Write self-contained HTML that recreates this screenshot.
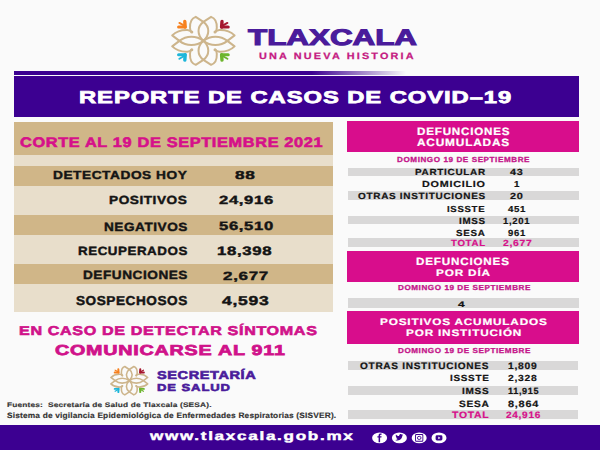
<!DOCTYPE html>
<html><head><meta charset="utf-8">
<style>
html,body{margin:0;padding:0;}
body{width:600px;height:450px;position:relative;overflow:hidden;background:#fafafa;font-family:"Liberation Sans",sans-serif;}
.b{position:absolute;}
.t{position:absolute;white-space:nowrap;font-weight:bold;transform-origin:0 0;text-rendering:geometricPrecision;}
</style></head><body>

<!-- thin bar -->
<div class="b" style="left:13.5px;top:71px;width:392px;height:3.7px;background:linear-gradient(90deg,#3c0091 0%,#3c0091 76%,rgba(60,0,145,0) 100%)"></div>
<div class="b" style="left:13.5px;top:76px;width:565.2px;height:40.7px;background:#3c0091"></div>
<!-- left table -->
<div class="b" style="left:13.5px;top:122px;width:319px;height:33px;background:#d0b688"></div>
<div class="b" style="left:13.5px;top:155px;width:319px;height:157px;background:#e8decb"></div>
<div class="b" style="left:13.5px;top:165.6px;width:319px;height:20.4px;background:#d0b688"></div>
<div class="b" style="left:13.5px;top:215px;width:319px;height:20px;background:#d0b688"></div>
<div class="b" style="left:13.5px;top:264px;width:319px;height:20px;background:#d0b688"></div>
<!-- right column -->
<div class="b" style="left:347.4px;top:120.7px;width:231.2px;height:31px;background:#d80d8c"></div>
<div class="b" style="left:348px;top:167.5px;width:230.5px;height:8.7px;background:#d9d8d8"></div>
<div class="b" style="left:348px;top:191.4px;width:230.5px;height:8.6px;background:#d9d8d8"></div>
<div class="b" style="left:348px;top:216.2px;width:230.5px;height:8.3px;background:#d9d8d8"></div>
<div class="b" style="left:348px;top:238.3px;width:230.5px;height:8.7px;background:#d9d8d8"></div>
<div class="b" style="left:347.4px;top:250.8px;width:231.2px;height:31.5px;background:#d80d8c"></div>
<div class="b" style="left:348px;top:298px;width:230.5px;height:10.3px;background:#d9d8d8"></div>
<div class="b" style="left:347.4px;top:310.8px;width:231.2px;height:33.4px;background:#d80d8c"></div>
<div class="b" style="left:348px;top:360.5px;width:229.5px;height:9px;background:#d9d8d8"></div>
<div class="b" style="left:348px;top:385.8px;width:229.5px;height:9.7px;background:#d9d8d8"></div>
<div class="b" style="left:348px;top:409.8px;width:229.5px;height:9px;background:#d9d8d8"></div>
<!-- footer -->
<div class="b" style="left:0;top:424.5px;width:600px;height:25.5px;background:#3c0091"></div>
<svg width="600" height="450" viewBox="0 0 600 450" style="position:absolute;left:0;top:0">
<g transform="translate(203.4,40.85) scale(1)">
<g fill="none" stroke="#cdb58c" stroke-width="2" stroke-linecap="round" stroke-linejoin="round">
<path d="M0,0 C-6.5,-6 -6.5,-14 0,-19 L7.7,-24 C12,-22.5 13.6,-18 13.4,-13 C13.3,-11 13,-10 12,-9" transform="scale(1,1)"/>
<path d="M0,0 C-6.5,-6 -6.5,-14 0,-19 L7.7,-24 C12,-22.5 13.6,-18 13.4,-13 C13.3,-11 13,-10 12,-9" transform="scale(-1,1)"/>
<path d="M0,0 C-6.5,-6 -6.5,-14 0,-19 L7.7,-24 C12,-22.5 13.6,-18 13.4,-13 C13.3,-11 13,-10 12,-9" transform="scale(1,-1)"/>
<path d="M0,0 C-6.5,-6 -6.5,-14 0,-19 L7.7,-24 C12,-22.5 13.6,-18 13.4,-13 C13.3,-11 13,-10 12,-9" transform="scale(-1,-1)"/>
<path d="M0,0 C-7,-5.5 -17,-5.5 -24,0 L-31.2,5.5 C-27,9.5 -21,11 -16,10.8 C-14,10.6 -13,10 -12,9" transform="scale(1,1)"/>
<path d="M0,0 C-7,-5.5 -17,-5.5 -24,0 L-31.2,5.5 C-27,9.5 -21,11 -16,10.8 C-14,10.6 -13,10 -12,9" transform="scale(-1,1)"/>
<path d="M0,0 C-7,-5.5 -17,-5.5 -24,0 L-31.2,5.5 C-27,9.5 -21,11 -16,10.8 C-14,10.6 -13,10 -12,9" transform="scale(1,-1)"/>
<path d="M0,0 C-7,-5.5 -17,-5.5 -24,0 L-31.2,5.5 C-27,9.5 -21,11 -16,10.8 C-14,10.6 -13,10 -12,9" transform="scale(-1,-1)"/>
</g><g fill="#cdb58c">
<circle cx="-11.6" cy="-8.8" r="1.5"/>
<circle cx="11.6" cy="-8.8" r="1.5"/>
<circle cx="-11.6" cy="8.8" r="1.5"/>
<circle cx="11.6" cy="8.8" r="1.5"/>
</g><g fill="none" stroke-linecap="round">
<g stroke="#f7811e" transform="scale(1,1)">
<path d="M-18.2,-13.8 L-18.6,-19.3" stroke-width="3.4"/>
<path d="M-19.6,-15.4 L-24,-17.9" stroke-width="2"/>
<path d="M-18.4,-13.9 L-24.8,-13.9" stroke-width="3.1"/>
</g>
<g stroke="#a5172f" transform="scale(-1,1)">
<path d="M-18.2,-13.8 L-18.6,-19.3" stroke-width="3.4"/>
<path d="M-19.6,-15.4 L-24,-17.9" stroke-width="2"/>
<path d="M-18.4,-13.9 L-24.8,-13.9" stroke-width="3.1"/>
</g>
<g stroke="#1db6da" transform="scale(1,-1)">
<path d="M-18.2,-13.8 L-18.6,-19.3" stroke-width="3.4"/>
<path d="M-19.6,-15.4 L-24,-17.9" stroke-width="2"/>
<path d="M-18.4,-13.9 L-24.8,-13.9" stroke-width="3.1"/>
</g>
<g stroke="#6db52d" transform="scale(-1,-1)">
<path d="M-18.2,-13.8 L-18.6,-19.3" stroke-width="3.4"/>
<path d="M-19.6,-15.4 L-24,-17.9" stroke-width="2"/>
<path d="M-18.4,-13.9 L-24.8,-13.9" stroke-width="3.1"/>
</g>
</g></g>
<g transform="translate(129.3,380.7) scale(0.59)">
<g fill="none" stroke="#cdb58c" stroke-width="2.7" stroke-linecap="round" stroke-linejoin="round">
<path d="M0,0 C-6.5,-6 -6.5,-14 0,-19 L7.7,-24 C12,-22.5 13.6,-18 13.4,-13 C13.3,-11 13,-10 12,-9" transform="scale(1,1)"/>
<path d="M0,0 C-6.5,-6 -6.5,-14 0,-19 L7.7,-24 C12,-22.5 13.6,-18 13.4,-13 C13.3,-11 13,-10 12,-9" transform="scale(-1,1)"/>
<path d="M0,0 C-6.5,-6 -6.5,-14 0,-19 L7.7,-24 C12,-22.5 13.6,-18 13.4,-13 C13.3,-11 13,-10 12,-9" transform="scale(1,-1)"/>
<path d="M0,0 C-6.5,-6 -6.5,-14 0,-19 L7.7,-24 C12,-22.5 13.6,-18 13.4,-13 C13.3,-11 13,-10 12,-9" transform="scale(-1,-1)"/>
<path d="M0,0 C-7,-5.5 -17,-5.5 -24,0 L-31.2,5.5 C-27,9.5 -21,11 -16,10.8 C-14,10.6 -13,10 -12,9" transform="scale(1,1)"/>
<path d="M0,0 C-7,-5.5 -17,-5.5 -24,0 L-31.2,5.5 C-27,9.5 -21,11 -16,10.8 C-14,10.6 -13,10 -12,9" transform="scale(-1,1)"/>
<path d="M0,0 C-7,-5.5 -17,-5.5 -24,0 L-31.2,5.5 C-27,9.5 -21,11 -16,10.8 C-14,10.6 -13,10 -12,9" transform="scale(1,-1)"/>
<path d="M0,0 C-7,-5.5 -17,-5.5 -24,0 L-31.2,5.5 C-27,9.5 -21,11 -16,10.8 C-14,10.6 -13,10 -12,9" transform="scale(-1,-1)"/>
</g><g fill="#cdb58c">
<circle cx="-11.6" cy="-8.8" r="1.5"/>
<circle cx="11.6" cy="-8.8" r="1.5"/>
<circle cx="-11.6" cy="8.8" r="1.5"/>
<circle cx="11.6" cy="8.8" r="1.5"/>
</g><g fill="none" stroke-linecap="round">
<g stroke="#f7811e" transform="scale(1,1)">
<path d="M-18.2,-13.8 L-18.6,-19.3" stroke-width="3.4"/>
<path d="M-19.6,-15.4 L-24,-17.9" stroke-width="2"/>
<path d="M-18.4,-13.9 L-24.8,-13.9" stroke-width="3.1"/>
</g>
<g stroke="#a5172f" transform="scale(-1,1)">
<path d="M-18.2,-13.8 L-18.6,-19.3" stroke-width="3.4"/>
<path d="M-19.6,-15.4 L-24,-17.9" stroke-width="2"/>
<path d="M-18.4,-13.9 L-24.8,-13.9" stroke-width="3.1"/>
</g>
<g stroke="#1db6da" transform="scale(1,-1)">
<path d="M-18.2,-13.8 L-18.6,-19.3" stroke-width="3.4"/>
<path d="M-19.6,-15.4 L-24,-17.9" stroke-width="2"/>
<path d="M-18.4,-13.9 L-24.8,-13.9" stroke-width="3.1"/>
</g>
<g stroke="#6db52d" transform="scale(-1,-1)">
<path d="M-18.2,-13.8 L-18.6,-19.3" stroke-width="3.4"/>
<path d="M-19.6,-15.4 L-24,-17.9" stroke-width="2"/>
<path d="M-18.4,-13.9 L-24.8,-13.9" stroke-width="3.1"/>
</g>
</g></g>
</svg>
<svg width="600" height="450" viewBox="0 0 600 450" style="position:absolute;left:0;top:0">
<g fill="#fff">
<ellipse cx="379.6" cy="437.9" rx="7.5" ry="5.4"/>
<ellipse cx="399.4" cy="437.9" rx="7.5" ry="5.4"/>
<ellipse cx="419.2" cy="437.9" rx="7.5" ry="5.4"/>
<ellipse cx="439" cy="437.9" rx="7.5" ry="5.4"/>
</g>
<g fill="#3c0091">
<path d="M378.6,442.2 L378.6,437.6 L377.4,437.6 L377.4,436.3 L378.6,436.3 L378.6,435.3 C378.6,434 379.4,433.4 380.6,433.4 L381.6,433.5 L381.6,434.7 L380.9,434.7 C380.3,434.7 380.1,435 380.1,435.4 L380.1,436.3 L381.6,436.3 L381.4,437.6 L380.1,437.6 L380.1,442.2 Z"/>
<path d="M395.2,439.9 C396.4,440.6 398.2,440.7 399.6,440 C401.2,439.2 402.3,437.6 402.3,435.8 L403.2,435 L402.3,435.2 L402.8,434.3 L401.9,434.6 C401.3,434 400.3,433.9 399.7,434.4 C399.2,434.8 399,435.4 399.1,436 C397.9,436 396.7,435.3 396,434.4 C395.6,435.1 395.8,436 396.4,436.5 L395.8,436.4 C395.9,437.1 396.3,437.6 397,437.8 L396.4,437.9 C396.7,438.5 397.2,438.8 397.8,438.9 C397.1,439.5 396.1,439.8 395.2,439.9 Z"/>
<path d="M416.3,434 h5.8 a1.2,1.2 0 0 1 1.2,1.2 v5.4 a1.2,1.2 0 0 1 -1.2,1.2 h-5.8 a1.2,1.2 0 0 1 -1.2,-1.2 v-5.4 a1.2,1.2 0 0 1 1.2,-1.2 z M416.6,435 a0.6,0.6 0 0 0 -0.6,0.6 v4.6 a0.6,0.6 0 0 0 0.6,0.6 h5.2 a0.6,0.6 0 0 0 0.6,-0.6 v-4.6 a0.6,0.6 0 0 0 -0.6,-0.6 z" fill-rule="evenodd"/>
<ellipse cx="419.2" cy="437.9" rx="1.8" ry="1.6" fill="none" stroke="#3c0091" stroke-width="0.9"/>
<rect x="435.6" y="435.3" width="6.8" height="5.2" rx="1.4"/>
</g>
<path d="M438.3,436.6 L440.4,437.9 L438.3,439.2 Z" fill="#fff"/>
</svg>

<div class="t" id="t_tlax" style="left:247.73px;top:27.15px;font-size:22.63px;line-height:22.63px;color:#4a1b9b;letter-spacing:0.0em;-webkit-text-stroke:1.1px #4a1b9b;transform:scaleX(1.3862)">TLAXCALA</div>
<div class="t" id="t_una" style="left:259.19px;top:52.40px;font-size:9.16px;line-height:9.16px;color:#c51a82;letter-spacing:0.2em;-webkit-text-stroke:0.25px #c51a82;transform:scaleX(1.1862)">UNA NUEVA HISTORIA</div>
<div class="t" id="t_rep" style="left:79.24px;top:89.48px;font-size:17.10px;line-height:17.10px;color:#ffffff;letter-spacing:0.04em;-webkit-text-stroke:0.75px #ffffff;transform:scaleX(1.3895)">REPORTE DE CASOS DE COVID–19</div>
<div class="t" id="t_corte" style="left:20.44px;top:136.10px;font-size:13.80px;line-height:13.80px;color:#d6108a;letter-spacing:0.04em;-webkit-text-stroke:0.6px #d6108a;transform:scaleX(1.1821)">CORTE AL 19 DE SEPTIEMBRE 2021</div>
<div class="t" id="l1" style="left:52.90px;top:171.37px;font-size:11.56px;line-height:11.56px;color:#141414;letter-spacing:0.04em;-webkit-text-stroke:0.405px #141414;transform:scaleX(1.1852)">DETECTADOS HOY</div>
<div class="t" id="l2" style="left:109.23px;top:195.34px;font-size:11.77px;line-height:11.77px;color:#141414;letter-spacing:0.04em;-webkit-text-stroke:0.412px #141414;transform:scaleX(1.1571)">POSITIVOS</div>
<div class="t" id="l3" style="left:103.60px;top:221.91px;font-size:11.89px;line-height:11.89px;color:#141414;letter-spacing:0.04em;-webkit-text-stroke:0.416px #141414;transform:scaleX(1.1450)">NEGATIVOS</div>
<div class="t" id="l4" style="left:78.42px;top:245.54px;font-size:11.91px;line-height:11.91px;color:#141414;letter-spacing:0.04em;-webkit-text-stroke:0.417px #141414;transform:scaleX(1.1225)">RECUPERADOS</div>
<div class="t" id="l5" style="left:82.57px;top:269.81px;font-size:11.89px;line-height:11.89px;color:#141414;letter-spacing:0.04em;-webkit-text-stroke:0.416px #141414;transform:scaleX(1.1453)">DEFUNCIONES</div>
<div class="t" id="l6" style="left:75.63px;top:294.98px;font-size:12.90px;line-height:12.90px;color:#141414;letter-spacing:0.04em;-webkit-text-stroke:0.452px #141414;transform:scaleX(1.0549)">SOSPECHOSOS</div>
<div class="t" id="n1" style="left:235.03px;top:170.60px;font-size:11.53px;line-height:11.53px;color:#141414;letter-spacing:0.04em;-webkit-text-stroke:0.404px #141414;transform:scaleX(1.4966)">88</div>
<div class="t" id="n2" style="left:219.38px;top:195.05px;font-size:11.85px;line-height:11.85px;color:#141414;letter-spacing:0.04em;-webkit-text-stroke:0.415px #141414;transform:scaleX(1.4020)">24,916</div>
<div class="t" id="n3" style="left:219.22px;top:220.49px;font-size:12.17px;line-height:12.17px;color:#141414;letter-spacing:0.04em;-webkit-text-stroke:0.426px #141414;transform:scaleX(1.3660)">56,510</div>
<div class="t" id="n4" style="left:217.11px;top:244.54px;font-size:12.22px;line-height:12.22px;color:#141414;letter-spacing:0.04em;-webkit-text-stroke:0.428px #141414;transform:scaleX(1.3711)">18,398</div>
<div class="t" id="n5" style="left:222.74px;top:269.56px;font-size:11.99px;line-height:11.99px;color:#141414;letter-spacing:0.04em;-webkit-text-stroke:0.42px #141414;transform:scaleX(1.4184)">2,677</div>
<div class="t" id="n6" style="left:222.34px;top:294.84px;font-size:12.91px;line-height:12.91px;color:#141414;letter-spacing:0.04em;-webkit-text-stroke:0.452px #141414;transform:scaleX(1.3569)">4,593</div>
<div class="t" id="r_def1" style="left:416.50px;top:126.83px;font-size:10.67px;line-height:10.67px;color:#ffffff;letter-spacing:0.07em;-webkit-text-stroke:0.235px #ffffff;transform:scaleX(1.0889)">DEFUNCIONES</div>
<div class="t" id="r_def2" style="left:416.96px;top:138.41px;font-size:10.68px;line-height:10.68px;color:#ffffff;letter-spacing:0.07em;-webkit-text-stroke:0.235px #ffffff;transform:scaleX(1.1082)">ACUMULADAS</div>
<div class="t" id="r_dom1" style="left:397.37px;top:155.61px;font-size:7.28px;line-height:7.28px;color:#c4168a;letter-spacing:0.07em;-webkit-text-stroke:0.3px #c4168a;transform:scaleX(1.1162)">DOMINGO 19 DE SEPTIEMBRE</div>
<div class="t" id="ra1" style="left:414.84px;top:168.36px;font-size:8.90px;line-height:8.90px;color:#141414;letter-spacing:0.07em;-webkit-text-stroke:0.196px #141414;transform:scaleX(1.1193)">PARTICULAR</div>
<div class="t" id="ra2" style="left:422.42px;top:180.39px;font-size:8.77px;line-height:8.77px;color:#141414;letter-spacing:0.07em;-webkit-text-stroke:0.193px #141414;transform:scaleX(1.2294)">DOMICILIO</div>
<div class="t" id="ra3" style="left:357.86px;top:191.50px;font-size:8.94px;line-height:8.94px;color:#141414;letter-spacing:0.07em;-webkit-text-stroke:0.197px #141414;transform:scaleX(1.1167)">OTRAS INSTITUCIONES</div>
<div class="t" id="ra4" style="left:447.34px;top:204.89px;font-size:8.72px;line-height:8.72px;color:#141414;letter-spacing:0.07em;-webkit-text-stroke:0.192px #141414;transform:scaleX(1.1029)">ISSSTE</div>
<div class="t" id="ra5" style="left:459.37px;top:217.34px;font-size:8.94px;line-height:8.94px;color:#141414;letter-spacing:0.07em;-webkit-text-stroke:0.197px #141414;transform:scaleX(1.0958)">IMSS</div>
<div class="t" id="ra6" style="left:456.49px;top:229.14px;font-size:8.90px;line-height:8.90px;color:#141414;letter-spacing:0.07em;-webkit-text-stroke:0.196px #141414;transform:scaleX(1.1029)">SESA</div>
<div class="t" id="ra7" style="left:451.34px;top:238.92px;font-size:8.92px;line-height:8.92px;color:#d6108a;letter-spacing:0.07em;-webkit-text-stroke:0.196px #d6108a;transform:scaleX(1.0863)">TOTAL</div>
<div class="t" id="rn1" style="left:510.21px;top:168.44px;font-size:8.88px;line-height:8.88px;color:#141414;letter-spacing:0.07em;-webkit-text-stroke:0.195px #141414;transform:scaleX(1.2147)">43</div>
<div class="t" id="rn2" style="left:514.33px;top:180.29px;font-size:8.76px;line-height:8.76px;color:#141414;letter-spacing:0.07em;-webkit-text-stroke:0.193px #141414;transform:scaleX(1.1128)">1</div>
<div class="t" id="rn3" style="left:510.41px;top:191.63px;font-size:8.90px;line-height:8.90px;color:#141414;letter-spacing:0.07em;-webkit-text-stroke:0.196px #141414;transform:scaleX(1.2258)">20</div>
<div class="t" id="rn4" style="left:507.94px;top:205.33px;font-size:8.67px;line-height:8.67px;color:#141414;letter-spacing:0.07em;-webkit-text-stroke:0.191px #141414;transform:scaleX(1.1172)">451</div>
<div class="t" id="rn5" style="left:503.34px;top:217.11px;font-size:8.92px;line-height:8.92px;color:#141414;letter-spacing:0.07em;-webkit-text-stroke:0.196px #141414;transform:scaleX(1.0656)">1,201</div>
<div class="t" id="rn6" style="left:508.04px;top:228.98px;font-size:8.91px;line-height:8.91px;color:#141414;letter-spacing:0.07em;-webkit-text-stroke:0.196px #141414;transform:scaleX(1.0673)">961</div>
<div class="t" id="rn7" style="left:503.15px;top:239.30px;font-size:8.89px;line-height:8.89px;color:#d6108a;letter-spacing:0.07em;-webkit-text-stroke:0.196px #d6108a;transform:scaleX(1.1676)">2,677</div>
<div class="t" id="r_pd1" style="left:416.32px;top:257.92px;font-size:10.44px;line-height:10.44px;color:#ffffff;letter-spacing:0.07em;-webkit-text-stroke:0.23px #ffffff;transform:scaleX(1.1157)">DEFUNCIONES</div>
<div class="t" id="r_pd2" style="left:436.31px;top:267.67px;font-size:9.40px;line-height:9.40px;color:#ffffff;letter-spacing:0.07em;-webkit-text-stroke:0.207px #ffffff;transform:scaleX(1.2561)">POR DÍA</div>
<div class="t" id="r_dom2" style="left:397.70px;top:284.19px;font-size:7.22px;line-height:7.22px;color:#c4168a;letter-spacing:0.07em;-webkit-text-stroke:0.3px #c4168a;transform:scaleX(1.1226)">DOMINGO 19 DE SEPTIEMBRE</div>
<div class="t" id="r_4" style="left:458.37px;top:301.27px;font-size:7.88px;line-height:7.88px;color:#141414;letter-spacing:0.07em;-webkit-text-stroke:0.173px #141414;transform:scaleX(1.5080)">4</div>
<div class="t" id="r_pos1" style="left:379.72px;top:316.67px;font-size:9.40px;line-height:9.40px;color:#ffffff;letter-spacing:0.07em;-webkit-text-stroke:0.207px #ffffff;transform:scaleX(1.2544)">POSITIVOS ACUMULADOS</div>
<div class="t" id="r_pos2" style="left:405.56px;top:328.70px;font-size:9.35px;line-height:9.35px;color:#ffffff;letter-spacing:0.07em;-webkit-text-stroke:0.206px #ffffff;transform:scaleX(1.2579)">POR INSTITUCIÓN</div>
<div class="t" id="r_dom3" style="left:397.70px;top:347.19px;font-size:7.22px;line-height:7.22px;color:#c4168a;letter-spacing:0.07em;-webkit-text-stroke:0.3px #c4168a;transform:scaleX(1.1226)">DOMINGO 19 DE SEPTIEMBRE</div>
<div class="t" id="rb1" style="left:360.23px;top:361.59px;font-size:9.37px;line-height:9.37px;color:#141414;letter-spacing:0.07em;-webkit-text-stroke:0.206px #141414;transform:scaleX(1.0746)">OTRAS INSTITUCIONES</div>
<div class="t" id="rb2" style="left:450.24px;top:374.11px;font-size:8.88px;line-height:8.88px;color:#141414;letter-spacing:0.07em;-webkit-text-stroke:0.195px #141414;transform:scaleX(1.1190)">ISSSTE</div>
<div class="t" id="rb3" style="left:461.87px;top:386.87px;font-size:8.88px;line-height:8.88px;color:#141414;letter-spacing:0.07em;-webkit-text-stroke:0.195px #141414;transform:scaleX(1.1280)">IMSS</div>
<div class="t" id="rb4" style="left:458.66px;top:399.60px;font-size:9.19px;line-height:9.19px;color:#141414;letter-spacing:0.07em;-webkit-text-stroke:0.202px #141414;transform:scaleX(1.1127)">SESA</div>
<div class="t" id="rb5" style="left:451.80px;top:411.06px;font-size:9.32px;line-height:9.32px;color:#d6108a;letter-spacing:0.07em;-webkit-text-stroke:0.205px #d6108a;transform:scaleX(1.1190)">TOTAL</div>
<div class="t" id="rbn1" style="left:507.98px;top:361.59px;font-size:9.37px;line-height:9.37px;color:#141414;letter-spacing:0.07em;-webkit-text-stroke:0.206px #141414;transform:scaleX(1.0997)">1,809</div>
<div class="t" id="rbn2" style="left:508.18px;top:374.31px;font-size:8.85px;line-height:8.85px;color:#141414;letter-spacing:0.07em;-webkit-text-stroke:0.195px #141414;transform:scaleX(1.1701)">2,328</div>
<div class="t" id="rbn3" style="left:507.73px;top:387.36px;font-size:8.93px;line-height:8.93px;color:#141414;letter-spacing:0.07em;-webkit-text-stroke:0.196px #141414;transform:scaleX(1.0210)">11,915</div>
<div class="t" id="rbn4" style="left:507.88px;top:399.56px;font-size:9.27px;line-height:9.27px;color:#141414;letter-spacing:0.07em;-webkit-text-stroke:0.204px #141414;transform:scaleX(1.1764)">8,864</div>
<div class="t" id="rbn5" style="left:505.74px;top:411.10px;font-size:9.32px;line-height:9.32px;color:#d6108a;letter-spacing:0.07em;-webkit-text-stroke:0.205px #d6108a;transform:scaleX(1.0794)">24,916</div>
<div class="t" id="c1" style="left:19.03px;top:325.29px;font-size:12.78px;line-height:12.78px;color:#d0128a;letter-spacing:0.04em;-webkit-text-stroke:0.6px #d0128a;transform:scaleX(1.2620)">EN CASO DE DETECTAR SÍNTOMAS</div>
<div class="t" id="c2" style="left:55.04px;top:343.55px;font-size:14.50px;line-height:14.50px;color:#d0128a;letter-spacing:0.04em;-webkit-text-stroke:0.75px #d0128a;transform:scaleX(1.3574)">COMUNICARSE AL 911</div>
<div class="t" id="s1" style="left:157.31px;top:371.13px;font-size:11.38px;line-height:11.38px;color:#4a1b9b;letter-spacing:0.04em;-webkit-text-stroke:0.6px #4a1b9b;transform:scaleX(1.2783)">SECRETARÍA</div>
<div class="t" id="s2" style="left:157.27px;top:383.83px;font-size:10.20px;line-height:10.20px;color:#4a1b9b;letter-spacing:0.07em;-webkit-text-stroke:0.6px #4a1b9b;transform:scaleX(1.2791)">DE SALUD</div>
<div class="t" id="f1" style="left:6.97px;top:402.66px;font-size:6.64px;line-height:6.64px;color:#333333;letter-spacing:0.02em;-webkit-text-stroke:0.15px #333333;transform:scaleX(1.2555)">Fuentes:  Secretaría de Salud de Tlaxcala (SESA).</div>
<div class="t" id="f2" style="left:6.78px;top:412.02px;font-size:7.75px;line-height:7.75px;color:#333333;letter-spacing:0.02em;-webkit-text-stroke:0.15px #333333;transform:scaleX(1.0765)">Sistema de vigilancia Epidemiológica de Enfermedades Respiratorias (SISVER).</div>
<div class="t" id="www" style="left:150.03px;top:430.42px;font-size:12.30px;line-height:12.30px;color:#ffffff;letter-spacing:0.1em;-webkit-text-stroke:0.431px #ffffff;transform:scaleX(1.3884)">www.tlaxcala.gob.mx</div>
</body></html>
